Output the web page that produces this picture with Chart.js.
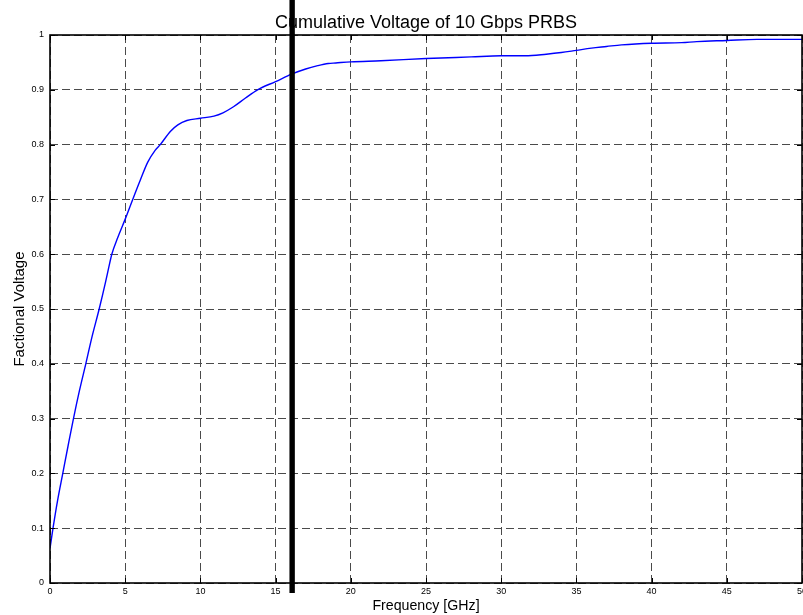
<!DOCTYPE html>
<html>
<head>
<meta charset="utf-8">
<script src="https://cdn.jsdelivr.net/npm/chart.js@4.4.1/dist/chart.umd.min.js"></script>
<style>
  html, body { margin: 0; padding: 0; background: #fff; overflow: hidden; }
  #wrap { width: 803px; height: 615px; position: relative; }
</style>
</head>
<body>
<div id="wrap"><canvas id="c"></canvas></div>
<script>
// ---- data ----
const freqGHz = [0, 0.2, 0.5, 0.85, 1.2, 1.56, 1.95, 2.38, 2.8, 3.27, 3.7, 3.9, 4.11, 4.5, 5.0, 5.5, 6.0, 6.5, 7.0, 7.33, 8.0, 8.5, 9.1, 10, 10.9, 11.5, 12.2, 13.0, 13.8, 15, 16.1, 17, 17.8, 18.5, 19, 20, 22, 25, 28, 30, 31.6, 33, 34, 35, 36, 37, 38, 40, 42, 43, 45, 47, 50];
const voltage = [0.063, 0.10, 0.15, 0.20, 0.25, 0.30, 0.35, 0.40, 0.45, 0.50, 0.55, 0.575, 0.60, 0.63, 0.664, 0.70, 0.735, 0.768, 0.79, 0.80, 0.824, 0.836, 0.844, 0.848, 0.852, 0.858, 0.869, 0.885, 0.90, 0.915, 0.929, 0.938, 0.944, 0.948, 0.949, 0.951, 0.953, 0.957, 0.960, 0.962, 0.962, 0.965, 0.968, 0.972, 0.976, 0.979, 0.982, 0.985, 0.986, 0.988, 0.990, 0.992, 0.992];
const xTickValues = [0, 5, 10, 15, 20, 25, 30, 35, 40, 45, 50];
const yTickLabels = ["0", "0.1", "0.2", "0.3", "0.4", "0.5", "0.6", "0.7", "0.8", "0.9", "1"];
const markerGHz = 16.1;
const titleText = "Cumulative Voltage of 10 Gbps PRBS";
const xTitle = "Frequency [GHz]";
const yTitle = "Factional Voltage";

const points = freqGHz.map((f, i) => ({ x: f, y: voltage[i] }));

const FONT = "'Liberation Sans', Arial, Helvetica, sans-serif";

const boxPlugin = {
  id: 'matlabBox',
  afterDatasetsDraw(chart) {
    const { ctx, chartArea: a, scales } = chart;
    ctx.save();
    // inner tick marks
    ctx.strokeStyle = '#000';
    ctx.lineWidth = 1;
    ctx.beginPath();
    xTickValues.forEach(v => {
      const px = Math.round(scales.x.getPixelForValue(v)) + 0.5;
      ctx.moveTo(px, a.bottom); ctx.lineTo(px, a.bottom - 5);
      ctx.moveTo(px, a.top); ctx.lineTo(px, a.top + 5);
    });
    yTickLabels.forEach((_, i) => {
      const py = Math.round(scales.y.getPixelForValue(i / 10)) + 0.5;
      ctx.moveTo(a.left, py); ctx.lineTo(a.left + 5, py);
      ctx.moveTo(a.right, py); ctx.lineTo(a.right - 5, py);
    });
    ctx.stroke();
    // axes box
    ctx.lineWidth = 1.6;
    ctx.strokeRect(a.left, a.top, a.right - a.left, a.bottom - a.top);
    // title centred over the axes
    ctx.fillStyle = '#000';
    ctx.font = "18px " + FONT;
    ctx.textAlign = 'center';
    ctx.textBaseline = 'alphabetic';
    ctx.fillText(titleText, (a.left + a.right) / 2, 28);
    // thick vertical marker
    const mx = scales.x.getPixelForValue(markerGHz);
    ctx.fillRect(mx - 2.7, 0, 5.4, a.bottom + 10);
    ctx.restore();
  }
};

new Chart(document.getElementById('c'), {
  type: 'line',
  data: {
    datasets: [{
      data: points,
      borderColor: '#0000ff',
      borderWidth: 1.4,
      pointRadius: 0,
      fill: false,
      cubicInterpolationMode: 'monotone'
    }]
  },
  options: {
    responsive: true,
    maintainAspectRatio: false,
    animation: false,
    layout: { padding: { left: 0, right: 1, top: 35, bottom: 0 } },
    plugins: {
      legend: { display: false },
      tooltip: { enabled: false },
      title: { display: false }
    },
    scales: {
      x: {
        type: 'linear',
        min: 0, max: 50,
        afterBuildTicks(s) { s.ticks = xTickValues.map(v => ({ value: v })); },
        afterFit(s) { s.height = 32; s.paddingLeft = 0; s.paddingRight = 0; },
        ticks: {
          color: '#000',
          font: { family: FONT, size: 9 },
          padding: 3,
          maxRotation: 0,
          autoSkip: false,
          callback: (v) => String(v)
        },
        grid: { color: '#4a4a4a', lineWidth: 1, drawTicks: false },
        border: { display: false, dash: [8, 4] },
        title: {
          display: true,
          text: xTitle,
          color: '#000',
          font: { family: FONT, size: 14.2 },
          padding: { top: 0, bottom: 0 }
        }
      },
      y: {
        type: 'linear',
        min: 0, max: 1,
        afterBuildTicks(s) { s.ticks = yTickLabels.map((_, i) => ({ value: i / 10 })); },
        afterFit(s) { s.width = 50; s.paddingTop = 0; s.paddingBottom = 0; },
        ticks: {
          color: '#000',
          font: { family: FONT, size: 9 },
          padding: 6,
          autoSkip: false,
          callback: (v, i) => yTickLabels[i]
        },
        grid: { color: '#4a4a4a', lineWidth: 1, drawTicks: false },
        border: { display: false, dash: [8, 4] },
        title: {
          display: true,
          text: yTitle,
          color: '#000',
          font: { family: FONT, size: 15 },
          padding: { top: 11, bottom: 0 }
        }
      }
    }
  },
  plugins: [boxPlugin]
});
</script>
</body>
</html>
